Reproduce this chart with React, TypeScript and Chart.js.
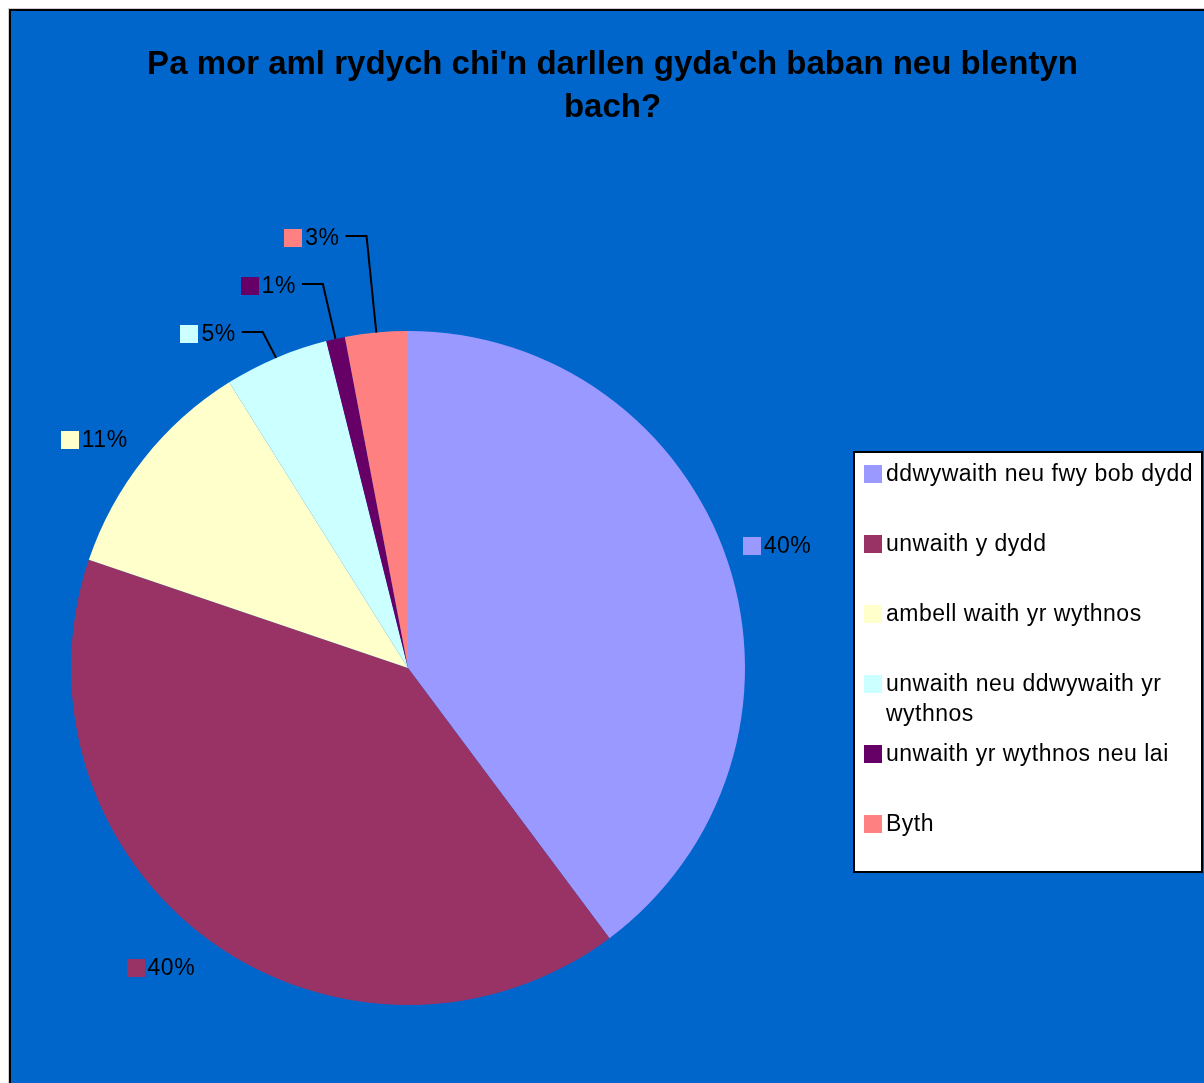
import { useEffect, useRef } from "react";
import { Chart, registerables } from "chart.js";

Chart.register(...registerables);

const titleLines = ["Pa mor aml rydych chi'n darllen gyda'ch baban neu blentyn", "bach?"];
const categories = [
  "ddwywaith neu fwy bob dydd",
  "unwaith y dydd",
  "ambell waith yr wythnos",
  "unwaith neu ddwywaith yr wythnos",
  "unwaith yr wythnos neu lai",
  "Byth",
];
const shares = [39.8, 40.4, 10.9, 5.0, 0.9, 3.0];
const sliceColors = ["#9999FF", "#993366", "#FFFFCC", "#CCFFFF", "#660066", "#FF8080"];

// label placement: angle clockwise from 12 o'clock (deg), distance as factor of radius, leader line?
const labelAngles = [71.7, 219.5, 306.0, 329.1, 339.9, 347.4];
const labelDistances = [1.153, 1.153, 1.151, 1.155, 1.207, 1.307];
const labelLeaders = [false, false, false, true, true, true];

const W = 1196;
const H = 1075;
const BLUE = "#0066CC";
const FONT = "'Liberation Sans', Arial, Helvetica, sans-serif";

const decorPlugin = {
  id: "decor",
  beforeDraw(chart: any) {
    const ctx = chart.ctx as CanvasRenderingContext2D;
    ctx.save();
    ctx.fillStyle = "#d0d0d0";
    ctx.fillRect(0, 0, W, H);
    ctx.fillStyle = "#000";
    ctx.fillRect(1, 1, W, 2);
    ctx.fillRect(1, 1, 2, H);
    ctx.fillStyle = BLUE;
    ctx.fillRect(3, 3, W, H);
    ctx.restore();
  },
  afterDraw(chart: any) {
    const ctx = chart.ctx as CanvasRenderingContext2D;
    ctx.save();
    // title
    ctx.fillStyle = "#000";
    ctx.font = `bold 33px ${FONT}`;
    ctx.textAlign = "center";
    ctx.textBaseline = "alphabetic";
    titleLines.forEach((t, i) => ctx.fillText(t, 604.5, 66 + i * 43));

    // legend box
    ctx.fillStyle = "#fff";
    ctx.fillRect(845, 443, 350, 422);
    ctx.strokeStyle = "#000";
    ctx.lineWidth = 2;
    ctx.strokeRect(846, 444, 348, 420);
    ctx.font = `23px ${FONT}`;
    (ctx as any).letterSpacing = "0.5px";
    ctx.textAlign = "left";
    const maxW = 312;
    categories.forEach((c, i) => {
      const top = 457 + i * 70;
      ctx.fillStyle = sliceColors[i];
      ctx.fillRect(856, top, 18, 18);
      ctx.fillStyle = "#000";
      const words = c.split(" ");
      const lines: string[] = [];
      let cur = "";
      words.forEach((w) => {
        const test = cur ? cur + " " + w : w;
        if (ctx.measureText(test).width > maxW && cur) {
          lines.push(cur);
          cur = w;
        } else cur = test;
      });
      if (cur) lines.push(cur);
      lines.forEach((l, j) => ctx.fillText(l, 878, top + 16 + j * 30));
    });

    // data labels
    const meta = chart.getDatasetMeta(0);
    const total = shares.reduce((a, b) => a + b, 0);
    ctx.font = `23px ${FONT}`;
    meta.data.forEach((arc: any, i: number) => {
      const p = arc.getProps(["x", "y", "startAngle", "endAngle", "outerRadius"], true);
      const a = (labelAngles[i] * Math.PI) / 180;
      const d = labelDistances[i] * p.outerRadius;
      const cx = p.x + d * Math.sin(a);
      const cy = p.y - d * Math.cos(a);
      const text = Math.round((shares[i] / total) * 100) + "%";
      const tw = ctx.measureText(text).width;
      const gw = 18 + 3 + tw;
      const left = cx - gw / 2;
      ctx.fillStyle = sliceColors[i];
      ctx.fillRect(Math.round(left), Math.round(cy - 9), 18, 18);
      ctx.fillStyle = "#000";
      ctx.fillText(text, left + 21, cy + 7);
      if (labelLeaders[i]) {
        const mid = (p.startAngle + p.endAngle) / 2;
        const ex = p.x + p.outerRadius * Math.cos(mid);
        const ey = p.y + p.outerRadius * Math.sin(mid);
        const sx = left + gw + 6;
        ctx.strokeStyle = "#000";
        ctx.lineWidth = 2;
        ctx.beginPath();
        ctx.moveTo(sx, Math.round(cy - 2));
        ctx.lineTo(sx + 21, Math.round(cy - 2));
        ctx.lineTo(ex, ey);
        ctx.stroke();
      }
    });
    ctx.restore();
  },
};

export default function App() {
  const ref = useRef<HTMLCanvasElement | null>(null);
  useEffect(() => {
    if (!ref.current) return;
    const chart = new Chart(ref.current, {
      type: "pie",
      data: {
        labels: categories,
        datasets: [
          {
            data: shares,
            backgroundColor: sliceColors,
            borderWidth: 0,
            hoverOffset: 0,
          },
        ],
      },
      options: {
        responsive: false,
        animation: false,
        devicePixelRatio: 1,
        layout: { padding: { left: 63, top: 323, right: 459, bottom: 78 } },
        plugins: {
          legend: { display: false },
          title: { display: false },
          tooltip: { enabled: false },
        },
      },
      plugins: [decorPlugin],
    } as any);
    return () => chart.destroy();
  }, []);
  return (
    <div style={{ position: "fixed", left: 8, top: 8, width: W, height: H }}>
      <canvas ref={ref} width={W} height={H} style={{ display: "block", width: W, height: H }} />
    </div>
  );
}
